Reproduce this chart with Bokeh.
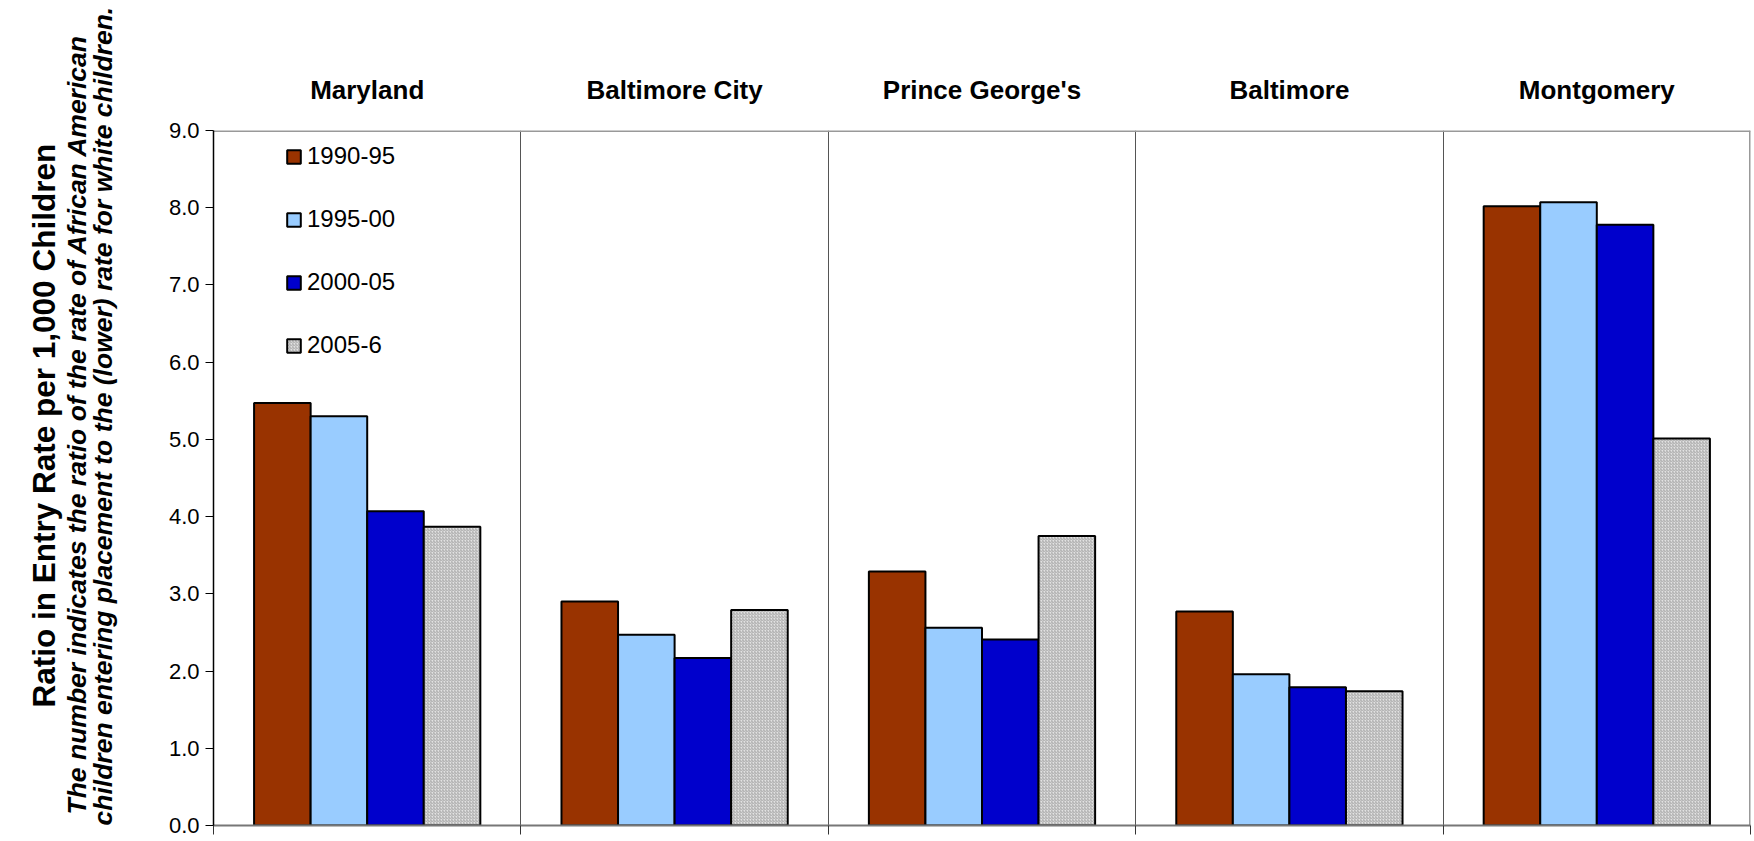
from bokeh.plotting import figure
from bokeh.models import (Range1d, LinearAxis, FixedTicker, Span, Title,
                          Grid, Legend, LegendItem, ColumnDataSource)
from bokeh.transform import dodge
from bokeh.embed import file_html
from bokeh.resources import INLINE

# ---------------- data ----------------
groups = ["Maryland", "Baltimore City", "Prince George's", "Baltimore", "Montgomery"]
periods = ["1990-95", "1995-00", "2000-05", "2005-6"]
v1990_95 = [5.47, 2.90, 3.29, 2.77, 8.02]
v1995_00 = [5.30, 2.47, 2.56, 1.96, 8.07]
v2000_05 = [4.07, 2.17, 2.41, 1.79, 7.78]
v2005_6 = [3.87, 2.79, 3.75, 1.74, 5.01]
y_ticks = [0, 1, 2, 3, 4, 5, 6, 7, 8, 9]

title_main = "Ratio in Entry Rate per 1,000 Children"
title_sub1 = "The number indicates the ratio of the rate of African American"
title_sub2 = "children entering placement to the (lower) rate for white children."

# ---------------- style ----------------
colors = ["#993300", "#99CCFF", "#0000CC", "#E2E2E2"]
FONT = "Liberation Sans"
W, H = 1754, 841
LEFT = 213

n = len(groups)
centers = [i + 0.5 for i in range(n)]          # category slots on a numeric scale
bounds = list(range(n + 1))

src = ColumnDataSource(dict(pos=centers, group=groups,
                            a=v1990_95, b=v1995_00, c=v2000_05, d=v2005_6))

p = figure(width=W, height=H, x_range=Range1d(0, n),
           y_range=Range1d(0, y_ticks[-1]), output_backend="svg", toolbar_location=None,
           x_axis_location=None, y_axis_location=None,
           min_border_left=LEFT, min_border_right=4, min_border_top=130,
           min_border_bottom=16, outline_line_color=None)
p.xgrid.visible = False
p.ygrid.visible = False

bw = 0.184
offsets = [-1.5 * bw, -0.5 * bw, 0.5 * bw, 1.5 * bw]
fields = ["a", "b", "c", "d"]
renderers = []
for i, (f, c) in enumerate(zip(fields, colors)):
    kw = dict(x=dodge("pos", offsets[i]), top=f, width=bw, source=src,
              fill_color=c, line_color="black", line_width=2)
    if i == 3:
        kw.update(hatch_pattern="right_diagonal_line", hatch_color="#AAAAAA",
                  hatch_scale=3, hatch_weight=1)
    renderers.append(p.vbar(**kw))

# dividers between groups
p.add_layout(Grid(dimension=0, ticker=FixedTicker(ticks=bounds[1:-1]),
                  grid_line_color="#555555", grid_line_width=1))
# top and right frame borders (drawn below the legend)
p.add_layout(Span(location=y_ticks[-1], dimension="width", line_color="#999999",
                  line_width=3, level="underlay"))
p.add_layout(Span(location=bounds[-1], dimension="height", line_color="#999999",
                  line_width=3, level="underlay"))

# y axis
yax = LinearAxis(ticker=FixedTicker(ticks=y_ticks),
                 major_label_overrides={t: f"{t:.1f}" for t in y_ticks},
                 axis_line_color="black", axis_line_width=1.5,
                 major_tick_line_color="black", major_tick_out=8, major_tick_in=0,
                 minor_tick_line_color=None, major_label_standoff=6,
                 major_label_text_font=FONT, major_label_text_font_size="22px",
                 major_label_text_color="black")
p.add_layout(yax, "left")

# rotated titles on the left, stacked outward from the axis
p.add_layout(Title(text=" ", align="left", vertical_align="middle", standoff=47,
                   text_font=FONT, text_font_size="1px"), "left")          # gap
p.add_layout(Title(text=title_sub2, align="left", vertical_align="middle", offset=0,
                   standoff=-6, text_font=FONT, text_font_style="bold italic",
                   text_font_size="26.5px", text_color="black"), "left")
p.add_layout(Title(text=title_sub1, align="left", vertical_align="middle", offset=11,
                   standoff=-6, text_font=FONT, text_font_style="bold italic",
                   text_font_size="26.5px", text_color="black"), "left")
p.add_layout(Title(text=title_main, align="left", vertical_align="middle", offset=118,
                   standoff=2, text_font=FONT, text_font_style="bold",
                   text_font_size="31.5px", text_color="black"), "left")

# bottom axis with ticks at group boundaries
xax = LinearAxis(ticker=FixedTicker(ticks=bounds),
                 major_label_overrides={t: "" for t in bounds},
                 axis_line_color="#777777", axis_line_width=2,
                 major_tick_line_color="#333333", major_tick_out=9, major_tick_in=0,
                 minor_tick_line_color=None, major_label_text_font_size="1px")
p.add_layout(xax, "below")

# group titles on top
tax = LinearAxis(ticker=FixedTicker(ticks=centers),
                 major_label_overrides={c: g for c, g in zip(centers, groups)},
                 axis_line_color=None, major_tick_line_color=None,
                 minor_tick_line_color=None, major_label_standoff=20,
                 major_label_text_font=FONT, major_label_text_font_style="bold",
                 major_label_text_font_size="26px", major_label_text_color="black")
p.add_layout(tax, "above")

legend = Legend(items=[LegendItem(label=lab, renderers=[r]) for lab, r in zip(periods, renderers)],
                location=(72, 466), padding=25, spacing=35, margin=0,
                glyph_width=17, glyph_height=17, label_standoff=5,
                label_text_font=FONT, label_text_font_size="24px", label_text_color="black",
                background_fill_color="white", background_fill_alpha=1.0,
                border_line_color=None)
p.add_layout(legend)

open("out.html", "w").write(file_html(p, INLINE))
